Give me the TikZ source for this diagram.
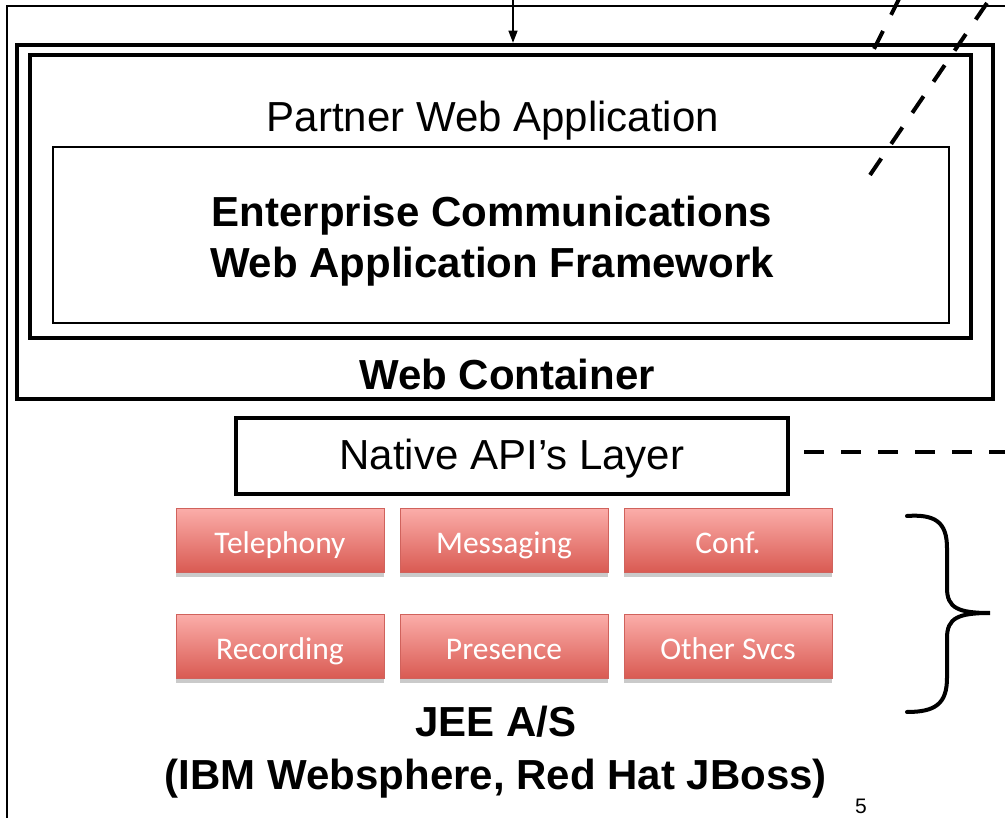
\documentclass[tikz,border=0pt]{standalone}
\usepackage{fontspec}
\setmainfont{Liberation Sans}
\newfontfamily\svcfont{Carlito}
\usetikzlibrary{arrows.meta,shadows}
\definecolor{svctop}{HTML}{FBADA9}
\definecolor{svcbot}{HTML}{D95A52}
\definecolor{svcedge}{HTML}{D0625C}
\tikzset{
  thinbox/.style={draw=black, line width=1.4pt},
  heavybox/.style={draw=black, line width=4.5pt, inner sep=0pt},
  svcbox/.style={draw=svcedge, line width=0.8pt, top color=svctop, bottom color=svcbot,
    minimum width=208pt, minimum height=64pt, inner sep=0pt,
    text height=25pt, text depth=0pt,
    font=\svcfont\fontsize{31.5}{31.5}\selectfont, text=white,
    drop shadow={shadow xshift=0pt, shadow yshift=-4pt, opacity=0.35, fill=black!60}},
  plainlabel/.style={font=\fontsize{42}{42}\selectfont, inner sep=0pt, anchor=base},
  boldlabel/.style={font=\bfseries\fontsize{42}{42}\selectfont, inner sep=0pt, anchor=base},
  dashlink/.style={line width=4pt},
  framerule/.style={line width=1.5pt},
}
\begin{document}
\begin{tikzpicture}[x=1pt, y=-1pt]
\useasboundingbox (0,0) rectangle (1005,818);

% page frame, cut at the right and bottom
\coordinate (fr1) at (7,818);
\coordinate (fr2) at (7,6);
\coordinate (fr3) at (1005,6);
\draw[framerule] (fr1) -- (fr2) -- (fr3);

% nested containers
\node[heavybox, minimum width=976pt, minimum height=354pt] (wc) at (505,222) {};
\node[heavybox, minimum width=941pt, minimum height=283pt] (pwa) at (500.5,196.5) {};
\node[thinbox, minimum width=896pt, minimum height=176pt, inner sep=0pt] (fw) at (501,235) {};

\node[plainlabel] (pwalabel) at (493,132) {Partner Web Application};
\node[boldlabel] (fwline1) at (492,227) {Enterprise Communications};
\node[boldlabel] (fwline2) at (492,278) {Web Application Framework};
\node[boldlabel] (wclabel) at (507,390) {Web Container};

% native layer
\node[heavybox, minimum width=552pt, minimum height=76pt,
      text height=28pt, text depth=0pt,
      font=\fontsize{42}{42}\selectfont] (nat) at (512,456) {Native API’s Layer};

% services
\node[svcbox] (tel) at (280,540.5) {Telephony};
\node[svcbox] (msg) at (504,540.5) {Messaging};
\node[svcbox] (conf) at (728,540.5) {Conf.};
\node[svcbox] (rec) at (280,646.5) {Recording};
\node[svcbox] (pres) at (504,646.5) {Presence};
\node[svcbox] (oth) at (728,646.5) {Other Svcs};

\node[boldlabel] (jee1) at (496,736) {JEE A/S};
\node[boldlabel] (jee2) at (496,789) {(IBM Websphere, Red Hat JBoss)};
\node[font=\fontsize{21}{21}\selectfont, inner sep=0pt, anchor=base] (pg) at (861,813) {5};

% incoming arrow
\coordinate (arrtop) at (513,0);
\draw[line width=1.3pt, -{Triangle[length=12pt,width=9pt]}] (arrtop) -- (arrtop |- wc.north);

% dashed links leaving to the right
\coordinate (natstart) at (804,452);
\coordinate (natend) at (1005,452);
\draw[dashlink, dash pattern=on 20pt off 17pt] (natstart) -- (natend);
\coordinate (d1a) at (900,-3);
\coordinate (d1b) at (874,49);
\draw[dashlink, dash pattern=on 20pt off 18pt] (d1a) -- (d1b);
\coordinate (d2a) at (987,3);
\coordinate (d2b) at (870,175);
\draw[dashlink, dash pattern=on 20pt off 17.6pt] (d2a) -- (d2b);

% brace grouping the services
\coordinate (brtop) at (907,516);
\coordinate (brtip) at (990,613);
\coordinate (brbot) at (907,712);
\draw[line width=4pt, line cap=round]
  (brtop) .. controls (935,514) and (947,522) .. (947,548)
  -- (947,588) .. controls (947,608) and (958,613) .. (brtip)
  .. controls (958,613) and (947,618) .. (947,638)
  -- (947,678) .. controls (947,704) and (935,712) .. (brbot);
\end{tikzpicture}
\end{document}
